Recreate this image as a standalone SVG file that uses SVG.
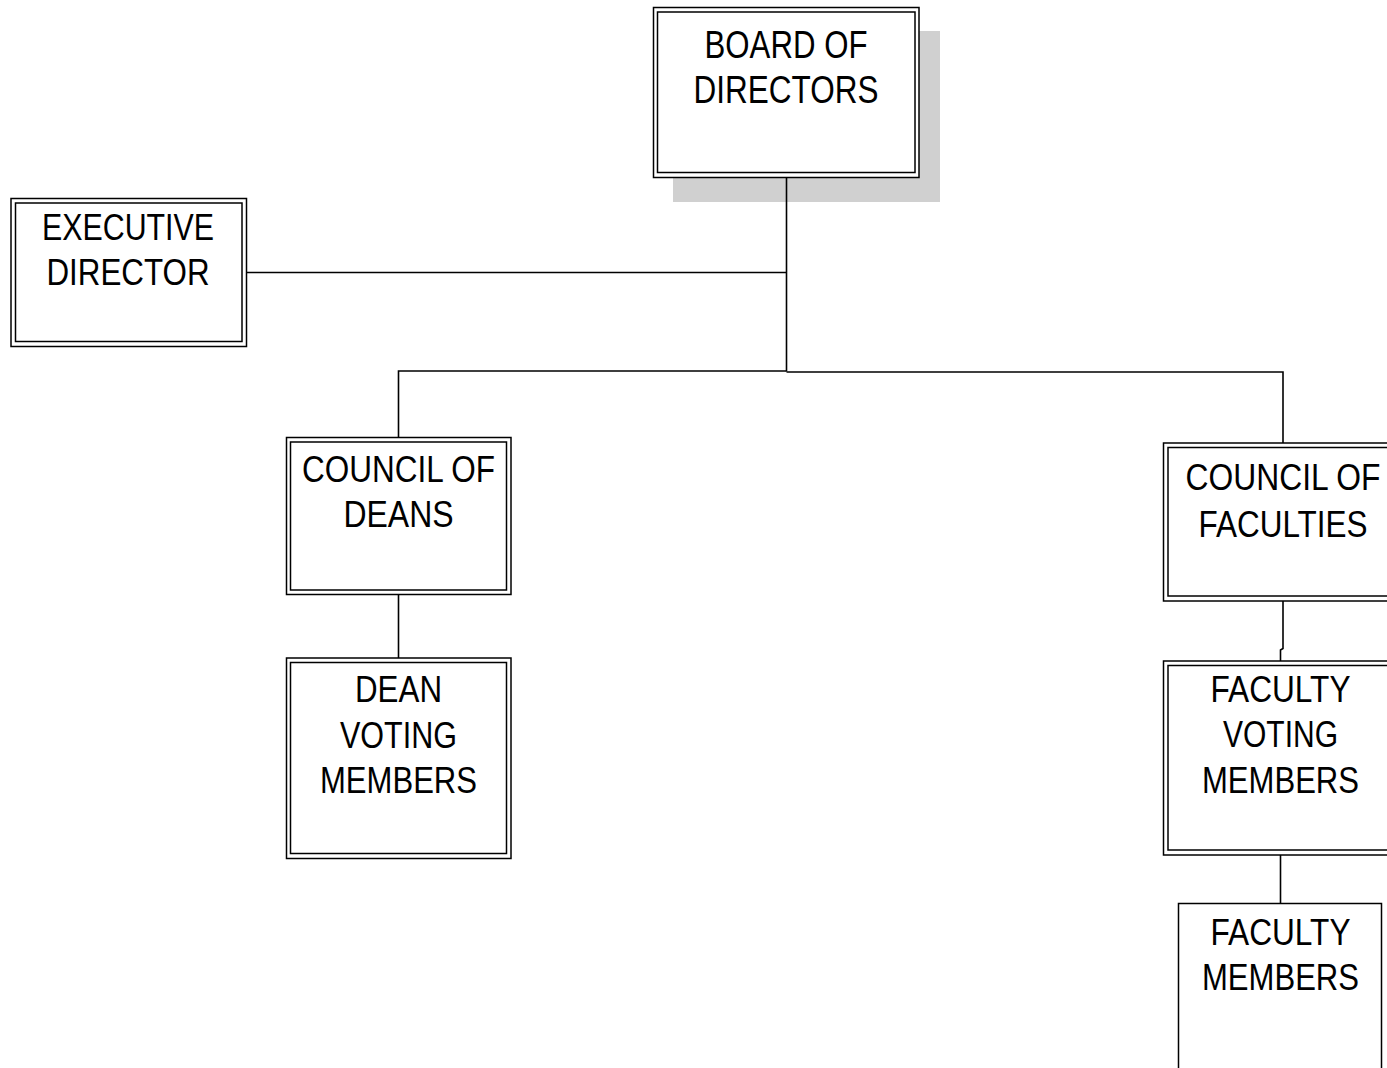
<svg xmlns="http://www.w3.org/2000/svg" width="1387" height="1068" viewBox="0 0 1387 1068">
<style>
.b{fill:none;stroke:#000;stroke-width:1.5}
.bg{fill:#fff;stroke:none}
.t{font-family:"Liberation Sans",Arial,sans-serif;font-size:36.5px;fill:#000;text-anchor:middle}
.tb{font-size:39px}
.c{fill:none;stroke:#000;stroke-width:1.6}
</style>
<rect width="1387" height="1068" fill="#fff"/>
<g id="board">
<rect x="673" y="31" width="267" height="171" fill="#d0d0d0"/>
<rect class="bg" x="653.5" y="7.5" width="265.5" height="170"/>
<rect class="b" x="653.5" y="7.5" width="265.5" height="170"/>
<rect class="b" x="657.5" y="12" width="257.5" height="160.5"/>
<text class="t tb" x="786" y="58" textLength="163" lengthAdjust="spacingAndGlyphs">BOARD OF</text>
<text class="t tb" x="786" y="103" textLength="185" lengthAdjust="spacingAndGlyphs">DIRECTORS</text>
</g>
<g id="executive">
<rect class="b" x="11" y="198.5" width="235.5" height="148"/>
<rect class="b" x="15.5" y="203" width="226.5" height="138.5"/>
<text class="t" x="128" y="239.5" textLength="172" lengthAdjust="spacingAndGlyphs">EXECUTIVE</text>
<text class="t" x="128" y="285" textLength="163" lengthAdjust="spacingAndGlyphs">DIRECTOR</text>
</g>
<g id="deans">
<rect class="b" x="286.5" y="437.5" width="224.5" height="157"/>
<rect class="b" x="290.5" y="442" width="216" height="148"/>
<text class="t" x="398.5" y="482" textLength="193" lengthAdjust="spacingAndGlyphs">COUNCIL OF</text>
<text class="t" x="398.5" y="527" textLength="110" lengthAdjust="spacingAndGlyphs">DEANS</text>
</g>
<g id="faculties">
<rect class="b" x="1163.5" y="443" width="240" height="158"/>
<rect class="b" x="1168" y="447.5" width="231" height="148.5"/>
<text class="t" x="1283" y="490" textLength="195" lengthAdjust="spacingAndGlyphs">COUNCIL OF</text>
<text class="t" x="1283" y="537" textLength="169" lengthAdjust="spacingAndGlyphs">FACULTIES</text>
</g>
<g id="dean-voting">
<rect class="b" x="286.5" y="658" width="224.5" height="200.5"/>
<rect class="b" x="290.5" y="662.5" width="216" height="191"/>
<text class="t" x="398.5" y="702" textLength="87" lengthAdjust="spacingAndGlyphs">DEAN</text>
<text class="t" x="398.5" y="747.5" textLength="117" lengthAdjust="spacingAndGlyphs">VOTING</text>
<text class="t" x="398.5" y="793" textLength="157" lengthAdjust="spacingAndGlyphs">MEMBERS</text>
</g>
<g id="faculty-voting">
<rect class="b" x="1163.5" y="661" width="240" height="194"/>
<rect class="b" x="1168" y="665.5" width="231" height="184.5"/>
<text class="t" x="1280.5" y="702" textLength="140" lengthAdjust="spacingAndGlyphs">FACULTY</text>
<text class="t" x="1280.5" y="747" textLength="115" lengthAdjust="spacingAndGlyphs">VOTING</text>
<text class="t" x="1280.5" y="793" textLength="157" lengthAdjust="spacingAndGlyphs">MEMBERS</text>
</g>
<g id="faculty-members">
<rect class="b" x="1178.5" y="903.5" width="203" height="180"/>
<text class="t" x="1280.5" y="945" textLength="140" lengthAdjust="spacingAndGlyphs">FACULTY</text>
<text class="t" x="1280.5" y="990" textLength="157" lengthAdjust="spacingAndGlyphs">MEMBERS</text>
</g>
<g id="connectors">
<polyline class="c" points="786.5,178 786.5,371.5"/>
<polyline class="c" points="246.5,272.5 786.5,272.5"/>
<polyline class="c" points="398.5,437.5 398.5,371 786.5,371"/>
<polyline class="c" points="786.5,372 1283,372 1283,443"/>
<polyline class="c" points="398.5,594.5 398.5,658"/>
<polyline class="c" points="1283,601 1283,648.5 1280.5,650 1280.5,661"/>
<polyline class="c" points="1280.5,855 1280.5,903.5"/>
</g>
</svg>
